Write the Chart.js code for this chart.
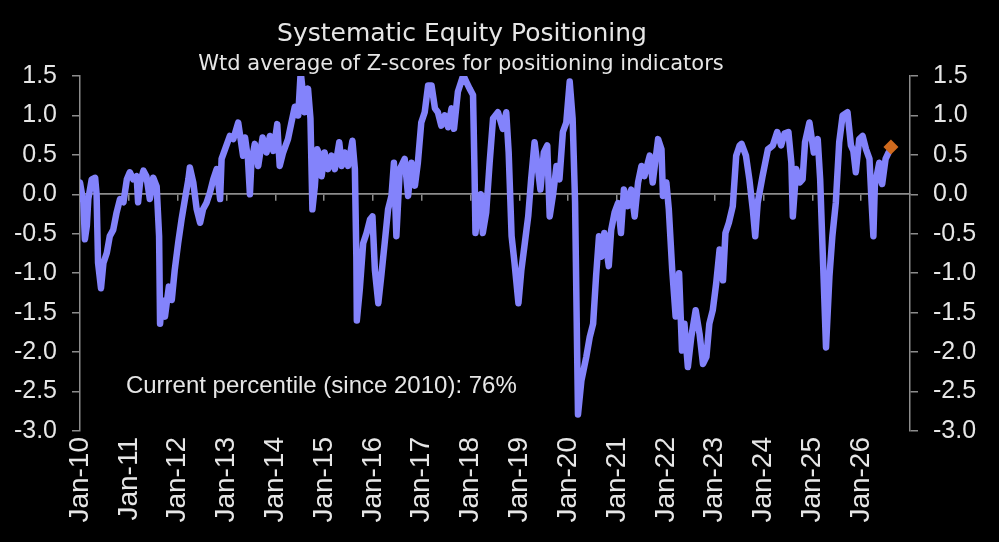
<!DOCTYPE html>
<html>
<head>
<meta charset="utf-8">
<script src="https://cdn.jsdelivr.net/npm/chart.js@4.4.1/dist/chart.umd.min.js"></script>
<style>
  html, body { margin: 0; padding: 0; background: #000; }
  #wrap { width: 999px; height: 542px; position: relative; }
</style>
</head>
<body>
<div id="wrap"><canvas id="c"></canvas></div>
<script>
// ---- Data (decimal years, weekly-ish Z-score average) ----
const xYears = [
2010.00,2010.02,2010.07,2010.10,2010.14,2010.17,2010.24,2010.31,2010.34,2010.37,2010.43,2010.48,2010.55,2010.61,2010.68,2010.75,2010.82,2010.89,2010.96,
2011.02,2011.09,2011.16,2011.19,2011.23,2011.30,2011.36,2011.43,2011.50,2011.57,2011.62,2011.64,2011.68,2011.74,2011.82,2011.88,2011.94,
2012.01,2012.08,2012.15,2012.22,2012.25,2012.32,2012.39,2012.46,2012.52,2012.59,2012.66,2012.73,2012.80,2012.87,2012.90,2012.97,
2013.07,2013.14,2013.24,2013.34,2013.38,2013.44,2013.48,2013.51,2013.58,2013.65,2013.74,2013.82,2013.89,2013.96,
2014.04,2014.09,2014.16,2014.26,2014.33,2014.40,2014.47,2014.52,2014.57,2014.60,2014.67,2014.72,2014.76,2014.81,2014.86,2014.91,2014.95,
2015.01,2015.08,2015.15,2015.22,2015.31,2015.36,2015.42,2015.49,2015.58,2015.63,2015.66,2015.67,2015.73,2015.80,2015.87,2015.94,2015.99,
2016.04,2016.11,2016.17,2016.24,2016.31,2016.38,2016.43,2016.48,2016.55,2016.65,2016.72,2016.79,2016.86,2016.92,2016.99,
2017.06,2017.13,2017.20,2017.27,2017.33,2017.40,2017.47,2017.54,2017.61,2017.66,2017.74,2017.85,2017.91,2017.98,
2018.05,2018.08,2018.10,2018.15,2018.21,2018.25,2018.32,2018.39,2018.46,2018.56,2018.66,2018.73,2018.78,2018.84,2018.90,2018.98,
2019.04,2019.11,2019.18,2019.24,2019.31,2019.38,2019.43,2019.50,2019.57,2019.62,2019.69,2019.76,2019.82,2019.89,2019.96,
2020.03,2020.09,2020.14,2020.20,2020.27,2020.37,2020.44,2020.51,2020.57,2020.63,2020.68,2020.74,2020.83,2020.88,2020.95,
2021.02,2021.08,2021.14,2021.22,2021.29,2021.36,2021.43,2021.50,2021.56,2021.67,2021.73,2021.79,2021.84,2021.91,2021.94,
2022.01,2022.06,2022.13,2022.20,2022.27,2022.33,2022.38,2022.45,2022.52,2022.61,2022.69,2022.76,2022.83,2022.89,2022.96,
2023.03,2023.10,2023.17,2023.22,2023.29,2023.37,2023.44,2023.51,2023.55,2023.64,2023.71,2023.78,2023.83,2023.88,2023.98,
2024.09,2024.19,2024.28,2024.36,2024.43,2024.51,2024.57,2024.60,2024.67,2024.74,2024.80,2024.85,2024.94,
2025.03,2025.11,2025.16,2025.21,2025.28,2025.35,2025.41,2025.48,2025.55,2025.62,2025.72,2025.79,2025.84,2025.89,2025.96,
2026.03,2026.10,2026.17,2026.21,2026.25,2026.28,2026.37,2026.43,2026.50,2026.56
];
const zScores = [
0.15,0.15,-0.10,-0.57,-0.40,-0.06,0.19,0.21,0.00,-0.87,-1.19,-0.87,-0.74,-0.53,-0.45,-0.23,-0.06,-0.10,0.19,
0.28,0.19,0.23,-0.10,0.15,0.30,0.23,-0.06,0.21,0.10,-0.53,-1.64,-1.34,-1.55,-1.17,-1.34,-0.96,
-0.62,-0.32,-0.06,0.19,0.34,0.15,-0.19,-0.36,-0.19,-0.11,0.02,0.19,0.32,-0.06,0.45,0.57,
0.74,0.70,0.91,0.49,0.72,0.45,0.00,0.40,0.64,0.36,0.72,0.53,0.74,0.55,
0.89,0.36,0.53,0.70,0.91,1.11,1.00,1.55,1.26,1.04,1.34,0.96,-0.19,0.10,0.57,0.49,0.23,
0.53,0.32,0.49,0.32,0.66,0.36,0.53,0.36,0.68,0.32,-0.79,-1.60,-1.21,-0.62,-0.49,-0.32,-0.28,
-0.96,-1.38,-1.04,-0.62,-0.19,-0.02,0.40,-0.53,0.32,0.45,-0.02,0.40,0.11,0.40,0.91,
1.04,1.38,1.38,1.09,1.04,0.87,1.00,0.85,1.09,0.83,1.30,1.51,1.43,1.34,
1.26,0.32,-0.49,-0.23,0.00,-0.49,-0.23,0.40,0.96,1.04,0.83,1.04,0.53,-0.53,-0.87,-1.38,
-0.96,-0.62,-0.28,0.19,0.66,0.32,0.06,0.53,0.62,-0.28,0.00,0.36,0.19,0.79,0.91,
1.43,0.96,-0.10,-2.79,-2.36,-2.06,-1.81,-1.64,-1.04,-0.53,-0.79,-0.49,-0.91,-0.45,-0.23,
-0.11,-0.49,0.06,-0.15,0.06,-0.28,0.15,0.36,0.23,0.49,0.15,0.45,0.70,0.57,-0.02,
0.15,-0.19,-0.96,-1.55,-1.00,-1.98,-1.64,-2.19,-1.81,-1.47,-1.77,-2.15,-2.06,-1.64,-1.47,
-1.13,-0.70,-1.09,-0.49,-0.36,-0.15,0.49,0.62,0.64,0.49,0.19,-0.19,-0.53,-0.11,0.23,
0.57,0.62,0.79,0.62,0.77,0.79,0.40,-0.28,0.32,0.15,0.19,0.66,0.91,
0.53,0.70,0.19,-0.70,-1.94,-1.04,-0.53,-0.11,0.66,1.00,1.04,0.62,0.55,0.28,0.70,
0.74,0.57,0.45,-0.06,-0.53,0.11,0.40,0.13,0.45,0.53
];
const latestYear = [2026.61];
const latestValue = [0.60];
const yearTicks = [2010,2011,2012,2013,2014,2015,2016,2017,2018,2019,2020,2021,2022,2023,2024,2025,2026];
const yTicks = [1.5,1.0,0.5,0.0,-0.5,-1.0,-1.5,-2.0,-2.5,-3.0];
const titleText = 'Systematic Equity Positioning';
const subtitleText = 'Wtd average of Z-scores for positioning indicators';
const noteText = 'Current percentile (since 2010): 76%';

const TEXT = '#e6e6e6';
const AXIS = '#8c8c8c';
const LINE = '#8383fb';
const MARK = '#cf6a1e';
const AXFONT = '"Liberation Sans", Arial, sans-serif';
const TFONT = '"DejaVu Sans", sans-serif';

const textPlugin = {
  id: 'texts',
  afterDraw(chart) {
    const ctx = chart.ctx;
    const xs = chart.scales.x, ys = chart.scales.y;
    ctx.save();
    ctx.fillStyle = TEXT;
    ctx.textAlign = 'center';
    ctx.textBaseline = 'alphabetic';
    ctx.font = '25px ' + TFONT;
    ctx.fillText(titleText, 462, 41);
    ctx.font = '21px ' + TFONT;
    ctx.fillText(subtitleText, 461, 70);
    ctx.textAlign = 'left';
    ctx.font = '24px ' + AXFONT;
    ctx.fillText(noteText, xs.getPixelForValue(2010.94), ys.getPixelForValue(-2.52));
    ctx.restore();
  }
};

const lineData = xYears.map((x, i) => ({x: x, y: zScores[i]}));
const markData = latestYear.map((x, i) => ({x: x, y: latestValue[i]}));

const yAxisCommon = {
  type: 'linear', min: -3, max: 1.5,
  afterBuildTicks(scale) { scale.ticks = yTicks.map(v => ({value: v})); },
  ticks: {
    color: TEXT, font: {family: AXFONT, size: 25}, padding: 15,
    callback: v => Number(v).toFixed(1)
  },
  grid: { display: true, drawOnChartArea: false, drawTicks: true, tickLength: 8, color: AXIS, tickColor: AXIS, lineWidth: 1.5 },
  border: { display: true, color: AXIS, width: 1.5 }
};

new Chart(document.getElementById('c'), {
  type: 'line',
  data: {
    datasets: [
      { data: markData, xAxisID: 'x', yAxisID: 'y', showLine: false,
        pointStyle: 'rectRot', pointRadius: 7.5, pointBackgroundColor: MARK, pointBorderColor: MARK, pointBorderWidth: 0 },
      { data: lineData, xAxisID: 'x', yAxisID: 'y', borderColor: LINE, borderWidth: 6.5,
        pointRadius: 0, tension: 0, borderJoinStyle: 'round', borderCapStyle: 'round', fill: false }
    ]
  },
  options: {
    responsive: true, maintainAspectRatio: false, animation: false,
    layout: { padding: { top: 76, left: 0, right: 0, bottom: 0 } },
    plugins: { legend: { display: false }, tooltip: { enabled: false }, title: { display: false } },
    scales: {
      x: {
        type: 'linear', position: 'bottom', min: 2010, max: 2027,
        afterBuildTicks(scale) { scale.ticks = yearTicks.map(v => ({value: v})); },
        afterFit(scale) { scale.height = 111; },
        ticks: {
          color: TEXT, font: {family: AXFONT, size: 28}, padding: 6,
          minRotation: 90, maxRotation: 90, autoSkip: false,
          callback: v => 'Jan-' + String(v).slice(2)
        },
        grid: { display: false, drawTicks: false },
        border: { display: false }
      },
      x0: {
        type: 'linear', axis: 'x', position: { y: 0 }, min: 2010, max: 2027,
        afterBuildTicks(scale) { scale.ticks = yearTicks.slice(1).map(v => ({value: v})); },
        ticks: { display: false },
        grid: { display: true, drawOnChartArea: false, drawTicks: true, tickLength: 6, color: AXIS, tickColor: AXIS, lineWidth: 1.5 },
        border: { display: true, color: AXIS, width: 1.8 }
      },
      y: Object.assign({}, yAxisCommon, { position: 'left', afterFit(scale) { scale.width = 80; } }),
      y2: Object.assign({}, yAxisCommon, { position: 'right', afterFit(scale) { scale.width = 89; } })
    }
  },
  plugins: [textPlugin]
});
</script>
</body>
</html>
